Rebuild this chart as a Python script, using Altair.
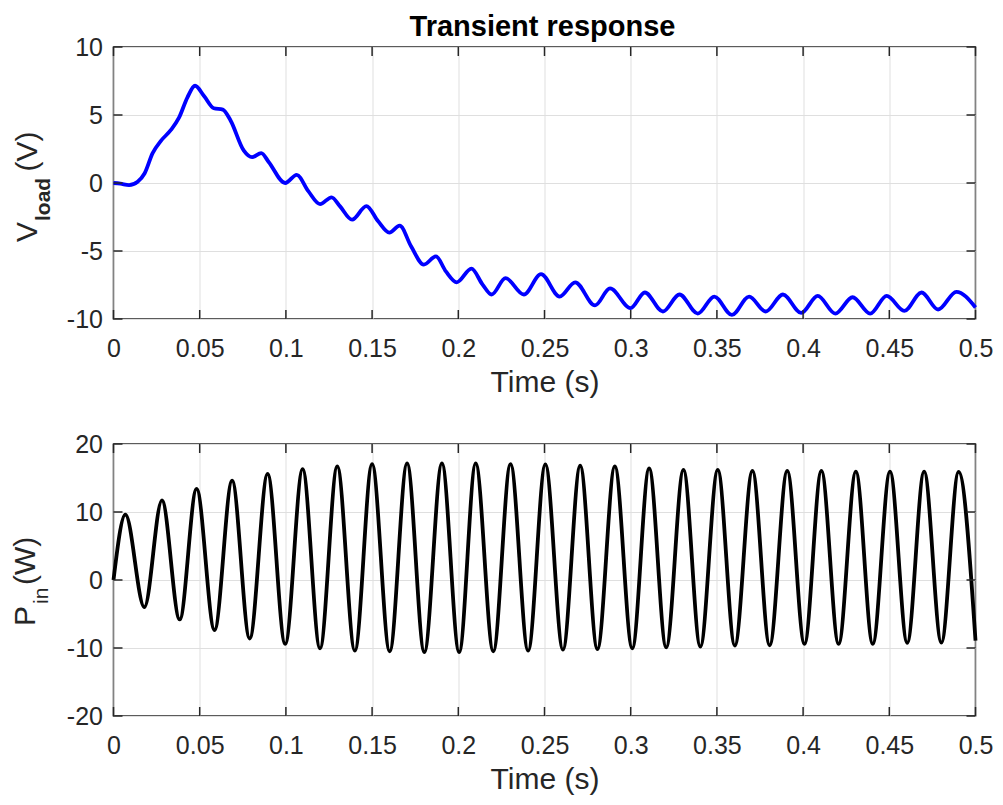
import altair as alt
import pandas as pd

# ---------------- data ----------------
t_v = [0.000, 0.004, 0.009, 0.014, 0.018, 0.0227, 0.0275, 0.0333, 0.038, 0.0429,
       0.0473, 0.0525, 0.0582, 0.0634, 0.0679, 0.0755, 0.0804, 0.0857, 0.090, 0.0996,
       0.1063, 0.113, 0.1198, 0.1265, 0.1313, 0.1384, 0.1467, 0.1534, 0.160, 0.166,
       0.1726, 0.180, 0.187, 0.1928, 0.1991, 0.2076, 0.214, 0.2193, 0.2274, 0.238,
       0.248, 0.2588, 0.2678, 0.2793, 0.288, 0.2999, 0.3082, 0.3187, 0.3283, 0.3389,
       0.3485, 0.3587, 0.3687, 0.3783, 0.3883, 0.3989, 0.4085, 0.4187, 0.4287, 0.4389,
       0.4485, 0.4587, 0.4687, 0.4783, 0.4889, 0.500]
v_load = [0.00, -0.05, -0.15, 0.1, 0.7, 2.2, 3.1, 3.9, 4.8, 6.3,
          7.15, 6.4, 5.5, 5.4, 4.6, 2.4, 1.9, 2.2, 1.55, 0.0,
          0.6, -0.6, -1.55, -1.05, -1.7, -2.7, -1.7, -2.8, -3.65, -3.14,
          -4.65, -6.0, -5.4, -6.5, -7.3, -6.3, -7.45, -8.2, -7.0, -8.2,
          -6.7, -8.35, -7.3, -9.0, -7.75, -9.2, -8.05, -9.45, -8.2, -9.6,
          -8.35, -9.7, -8.35, -9.45, -8.2, -9.55, -8.3, -9.6, -8.4, -9.6,
          -8.3, -9.4, -8.05, -9.3, -8.0, -9.15]

t_p = [0.0, 0.0069, 0.0179, 0.0281, 0.0384, 0.0482, 0.0586, 0.0688, 0.079, 0.0894,
       0.0996, 0.1097, 0.1198, 0.1298, 0.14, 0.15, 0.1602, 0.1703, 0.1803, 0.1905,
       0.2005, 0.2101, 0.2203, 0.2303, 0.2405, 0.2505, 0.2607, 0.2707, 0.2807, 0.2908,
       0.3009, 0.3107, 0.3206, 0.3306, 0.3404, 0.3505, 0.3604, 0.3706, 0.3806, 0.3908,
       0.4008, 0.4106, 0.4206, 0.4306, 0.4404, 0.4504, 0.4604, 0.4702, 0.4802, 0.4902,
       0.5]
p_in = [0.0, 9.6, -4.0, 11.7, -5.8, 13.4, -7.35, 14.6, -8.6, 15.6,
        -9.4, 16.3, -10.05, 16.7, -10.4, 17.05, -10.5, 17.15, -10.6, 17.15,
        -10.6, 17.15, -10.5, 17.05, -10.4, 17.0, -10.25, 16.8, -10.15, 16.7,
        -10.05, 16.4, -9.9, 16.2, -9.8, 16.2, -9.65, 16.05, -9.6, 16.05,
        -9.4, 16.05, -9.4, 15.95, -9.4, 15.95, -9.25, 15.95, -9.2, 15.9,
        -8.9]

x_ticks = [0, 0.05, 0.1, 0.15, 0.2, 0.25, 0.3, 0.35, 0.4, 0.45, 0.5]
v_ticks = [-10, -5, 0, 5, 10]
p_ticks = [-20, -10, 0, 10, 20]
title_text = "Transient response"

# ---------------- styling ----------------
W, H = 862, 272
TICK = 9
AX = "#262626"
FONT = "Liberation Sans"
TICK_FS = 25
LAB_FS = 30
SUB_FS = 21


def panel(t, y, color, ydom, yticks, label_parts, title=None):
    df = pd.DataFrame({"t": t, "y": y})
    xs = alt.Scale(domain=[0, 0.5], nice=False, zero=False)
    ys = alt.Scale(domain=ydom, nice=False, zero=False)
    xaxis = alt.Axis(values=x_ticks, title="Time (s)", labelExpr="'' + datum.value",
                     titleY=72, titleBaseline="alphabetic", labelPadding=17)
    yaxis = alt.Axis(values=yticks, title=None, labelExpr="'' + datum.value",
                     labelPadding=11)
    line = alt.Chart(df).mark_line(color=color, strokeWidth=3.8, interpolate="monotone",
                                   strokeJoin="round").encode(
        x=alt.X("t:Q", scale=xs, axis=xaxis),
        y=alt.Y("y:Q", scale=ys, axis=yaxis),
    )
    xt = pd.DataFrame({"t": x_ticks})
    yt = pd.DataFrame({"y": yticks})
    tick_style = dict(color=AX, strokeWidth=1.5)
    xb = alt.Chart(xt).mark_rule(**tick_style).encode(
        x=alt.X("t:Q", scale=xs, axis=xaxis), y=alt.value(H), y2=alt.value(H - TICK))
    xtop = alt.Chart(xt).mark_rule(**tick_style).encode(
        x=alt.X("t:Q", scale=xs, axis=xaxis), y=alt.value(0), y2=alt.value(TICK))
    yl = alt.Chart(yt).mark_rule(**tick_style).encode(
        y=alt.Y("y:Q", scale=ys, axis=yaxis), x=alt.value(0), x2=alt.value(TICK))
    yr = alt.Chart(yt).mark_rule(**tick_style).encode(
        y=alt.Y("y:Q", scale=ys, axis=yaxis), x=alt.value(W), x2=alt.value(W - TICK))

    one = pd.DataFrame({"a": [0]})
    texts = []
    for txt, fs, weight, xpos, ypos in label_parts:
        texts.append(alt.Chart(one).mark_text(
            text=txt, angle=270, align="left", baseline="alphabetic",
            font=FONT, fontSize=fs, fontWeight=weight, color=AX
        ).encode(x=alt.value(xpos), y=alt.value(ypos)))
    if title:
        texts.append(alt.Chart(one).mark_text(
            text=title, align="center", baseline="alphabetic",
            font=FONT, fontSize=29, fontWeight="bold", color="black"
        ).encode(x=alt.value(W / 2 - 2), y=alt.value(-11)))

    return alt.layer(line, xb, xtop, yl, yr, *texts).properties(width=W, height=H)


top = panel(t_v, v_load, "#0000ff", [-10, 10], v_ticks,
            [("V", LAB_FS, "normal", -77, 195),
             ("load", SUB_FS, "bold", -64, 174),
             ("(V)", LAB_FS, "normal", -77, 124.5)],
            title=title_text)
bottom = panel(t_p, p_in, "black", [-20, 20], p_ticks,
               [("P", LAB_FS, "normal", -79, 182),
                ("in", SUB_FS, "normal", -66, 160),
                ("(W)", LAB_FS, "normal", -79, 141)])

chart = alt.vconcat(top, bottom, spacing=125, bounds="flush").properties(
    padding={"left": 1.5, "top": 4, "right": 0, "bottom": 0}
).configure_view(stroke=AX, strokeWidth=1.5).configure_axis(
    labelFont=FONT, labelFontSize=TICK_FS, labelColor=AX,
    titleFont=FONT, titleFontSize=LAB_FS, titleColor=AX, titleFontWeight="normal",
    gridColor="#dfdfdf", gridWidth=1, domain=False, ticks=False,
    labelFlush=False, labelOverlap=False, grid=True
)

chart.save("out.html", embed_options={"renderer": "svg", "actions": False})
